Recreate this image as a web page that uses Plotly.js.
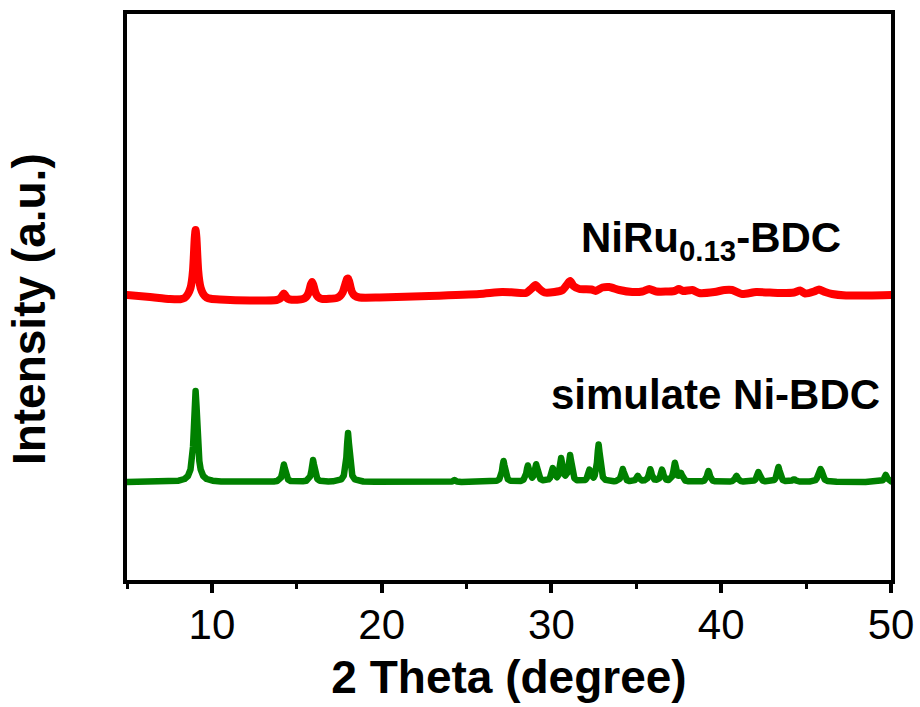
<!DOCTYPE html>
<html>
<head>
<meta charset="utf-8">
<script src="https://cdn.plot.ly/plotly-3.0.1.min.js"></script>
<style>
  html, body { margin: 0; padding: 0; background: #fff; }
  #chart { width: 920px; height: 707px; }
  /* rounded joins so the narrow diffraction peaks get soft tips */
  #chart .scatterlayer path.js-line { stroke-linejoin: round; stroke-linecap: round; }
</style>
</head>
<body>
<div id="chart"></div>
<script>
// Measured NiRu0.13-BDC pattern (2θ in degrees, intensity in a.u. above its own baseline)
const niruTheta = [5, 6.35, 7.53, 8.14, 8.39, 8.59, 8.74, 8.82, 8.89, 8.94, 8.99, 9.04, 9.09, 9.14, 9.19,
  9.26, 9.34, 9.49, 9.69, 9.94, 10.47, 12.24,
  13.82, 14.0, 14.1, 14.17, 14.24, 14.31, 14.38, 14.48, 14.7,
  15.35, 15.55, 15.68, 15.76, 15.83, 15.9, 15.97, 16.04, 16.12, 16.25, 16.47,
  17.35, 17.55, 17.7, 17.8, 17.9, 17.96, 18.02, 18.08, 18.15, 18.25, 18.4, 18.7,
  19.88, 22.8, 25.76, 27.1, 27.8, 28.5, 28.8, 29.06, 29.3, 29.6, 30.18,
  30.65, 30.94, 31.1, 31.3, 31.65, 32.35, 32.6, 33.0, 33.4, 34.0, 34.76, 35.35, 35.76, 36.18, 37.24,
  37.5, 37.76, 38.3, 38.7, 39.6, 40.2, 40.65, 41.24, 42.06, 43.4, 44.3, 44.65, 44.94, 45.47, 45.76,
  46.12, 46.53, 47.35, 48.7, 50];
const niruIntensity = [5, 3, 1, 0.8, 2, 6, 12, 19, 30, 45, 62, 70, 62, 45, 30,
  19, 12, 6, 2.5, 1.2, 0.5, -0.5,
  0, 1.2, 3, 5, 6.5, 5, 3, 1.2, 0.2,
  1, 3, 6.5, 11, 15.5, 18, 15.5, 11, 6.5, 3, 1.2,
  2, 4, 7.5, 12.5, 18, 21, 21.5, 19, 14, 8, 4.5, 2.5,
  2.5, 4, 6, 8, 7.5, 7, 11, 15, 11, 7.5, 8,
  10, 16, 19, 14, 11, 10.5, 9, 12.5, 13, 10, 8, 8.5, 11, 8.5, 9,
  11, 9, 10, 7, 8, 10, 10, 6, 8, 7, 7.5, 9.5, 6.5, 8.5, 10.5,
  8, 6, 4.5, 4.5, 5];

// Simulated Ni-BDC pattern
const simTheta = [5, 7.0, 7.54, 8.04, 8.39, 8.59, 8.74, 8.82, 8.89, 8.94, 8.99, 9.04, 9.09, 9.14, 9.19,
  9.26, 9.34, 9.49, 9.69, 10.04, 10.54, 11.5, 12.8,
  13.34, 13.64, 13.84, 13.99, 14.07, 14.14, 14.19, 14.24, 14.29, 14.34, 14.41, 14.49, 14.64, 14.84, 15.06,
  15.36, 15.56, 15.71, 15.79, 15.86, 15.91, 15.96, 16.01, 16.06, 16.13, 16.21, 16.36, 16.56, 16.86,
  17.12, 17.42, 17.62, 17.77, 17.85, 17.92, 17.97, 18.02, 18.07, 18.12, 18.19, 18.27, 18.42, 18.62,
  18.92, 19.6, 20.5, 23.9, 24.15, 24.29, 24.43, 24.7, 26.0,
  26.28, 26.58, 26.78, 26.93, 27.01, 27.08, 27.13, 27.18, 27.23, 27.28, 27.35, 27.43, 27.58, 27.78,
  28.01, 28.21, 28.36, 28.44, 28.51, 28.56, 28.61, 28.66, 28.71, 28.78, 28.86, 28.94, 29.0, 29.05,
  29.1, 29.15, 29.2, 29.27, 29.35, 29.5, 29.7,
  29.83, 29.91, 29.98, 30.03, 30.08, 30.13, 30.18, 30.25, 30.33, 30.4, 30.47, 30.52, 30.57, 30.62,
  30.67, 30.74, 30.82, 30.88, 30.95, 31.0, 31.05, 31.1, 31.15, 31.2, 31.27, 31.35, 31.5, 31.7,
  31.9, 32.0, 32.07, 32.14, 32.19, 32.24, 32.29, 32.34, 32.41, 32.48, 32.55, 32.61, 32.68, 32.73,
  32.78, 32.83, 32.88, 32.95, 33.03, 33.18, 33.38, 33.68,
  33.8, 33.95, 34.03, 34.1, 34.15, 34.2, 34.25, 34.3, 34.37, 34.45, 34.6, 34.75,
  34.83, 34.91, 34.98, 35.03, 35.08, 35.13, 35.18, 35.25, 35.33, 35.48,
  35.57, 35.65, 35.72, 35.77, 35.82, 35.87, 35.92, 35.99, 36.07, 36.2,
  36.26, 36.34, 36.41, 36.46, 36.51, 36.56, 36.61, 36.68, 36.76, 36.9,
  37.02, 37.1, 37.17, 37.22, 37.27, 37.32, 37.37, 37.44, 37.52, 37.58, 37.63, 37.68, 37.73, 37.8,
  37.88, 38.03, 38.23,
  38.65, 38.85, 39.0, 39.08, 39.15, 39.2, 39.25, 39.3, 39.35, 39.42, 39.5, 39.65, 39.85, 40.3,
  40.5, 40.65, 40.73, 40.8, 40.85, 40.9, 40.95, 41.0, 41.07, 41.15, 41.3, 41.59,
  41.79, 41.94, 42.02, 42.09, 42.14, 42.19, 42.24, 42.29, 42.36, 42.44, 42.59, 42.79,
  42.97, 43.12, 43.2, 43.27, 43.32, 43.37, 43.42, 43.47, 43.54, 43.62, 43.77, 43.97,
  44.04, 44.12, 44.19, 44.24, 44.29, 44.34, 44.39, 44.46, 44.6,
  45.2, 45.4, 45.55, 45.63, 45.7, 45.75, 45.8, 45.85, 45.9, 45.95, 46.02, 46.1, 46.25, 46.45, 46.8, 48.5,
  49.09, 49.29, 49.44, 49.52, 49.59, 49.64, 49.69, 49.74, 49.79, 49.86, 49.94, 50];
const simIntensity = [0, 0.2, 0.6, 1.3, 3, 6, 12.5, 21, 35.5, 54, 77, 91, 77, 54, 35.5,
  21, 12.5, 6, 3, 1.3, 0.6, 0.2, 0.1,
  0.25, 0.45, 1, 2.3, 4.4, 8.8, 14, 17.5, 14, 8.8, 4.4, 2.3, 1, 0.55, 0.6,
  0.8, 1.3, 3, 5.6, 11, 17.6, 22, 17.6, 11, 5.6, 3, 1.3, 0.7, 0.6,
  0.7, 1.3, 2.7, 6.4, 12.3, 24.5, 39, 49, 39, 24.5, 12.3, 6.4, 2.7, 1.2,
  0.5, 0.15, 0, 0, 0.5, 2, 0.5, 0, 0.1,
  0.2, 0.5, 1.2, 2.7, 5.3, 10.5, 16.8, 21, 16.8, 10.5, 5.3, 2.7, 1.2, 0.8,
  0.8, 1.1, 2.4, 4.4, 8.5, 13.3, 16.5, 13.6, 9, 5.5, 4.4, 6.1, 9.7, 14.5,
  17.8, 14.5, 9.2, 4.7, 3, 1.8, 1.9,
  2.6, 4, 7.5, 11.5, 14, 11.5, 8, 5.5, 4.8, 6.5, 11.5, 19, 24, 19.5,
  13, 8, 6.5, 7.2, 9.4, 14.5, 22.5, 27, 21.8, 13.8, 7, 3.8, 1.8, 1.3,
  1.7, 2.1, 3.5, 6.6, 10.3, 12.5, 10.6, 7.2, 4.6, 4.4, 6.5, 10.2, 19.4, 30.5,
  37.5, 30, 18.8, 9.4, 4.9, 2.1, 1, 0.7,
  1, 1.8, 3.3, 6.5, 10.4, 13, 10.4, 6.5, 3.3, 1.8, 0.9, 1,
  1.2, 1.9, 3.3, 5, 6.2, 5.1, 3.5, 2.3, 1.6, 1.7,
  2.2, 3.6, 6.7, 10.4, 12.8, 10.5, 6.8, 3.7, 2.4, 2.3,
  2.4, 3.6, 6.5, 10, 12.3, 10.2, 6.6, 3.8, 2.5, 1.9,
  3.3, 5.4, 9.9, 15.5, 19.3, 15.8, 10.6, 6.5, 6.2, 7.8, 9, 7.2, 4.6, 2.6,
  1.5, 0.8, 0.5,
  0.4, 0.7, 1.4, 2.8, 5.5, 8.8, 11, 8.8, 5.5, 2.8, 1.4, 0.7, 0.4, 0.3,
  0.5, 0.9, 1.6, 3, 4.8, 6, 4.8, 3, 1.6, 0.9, 0.5, 0.4,
  0.65, 1.4, 2.6, 5, 8, 10, 8, 5, 2.6, 1.4, 0.7, 0.6,
  1, 2, 3.8, 7.5, 12, 15, 12, 7.5, 3.8, 2, 1, 0.6,
  0.6, 0.9, 1.6, 2.4, 3, 2.4, 1.6, 0.9, 0.5,
  0.4, 0.9, 1.9, 3.6, 7, 10.5, 12.8, 13, 11.5, 8, 4.5, 2.4, 1.1, 0.5, 0.3, 0.1,
  0.2, 0.45, 0.9, 1.8, 3.5, 5.6, 7, 5.6, 3.5, 1.8, 0.9, 0.7];

// Vertical offsets used to stack the two patterns
const niruOffset = 280;
const simOffset = 98;

const xTicks = [10, 20, 30, 40, 50];
const labels = ['NiRu<sub>0.13</sub>-BDC', 'simulate Ni-BDC'];

const FONT = 'Liberation Sans, Arial, Helvetica, sans-serif';

const traces = [
  {
    x: niruTheta,
    y: niruIntensity.map(v => v + niruOffset),
    mode: 'lines',
    line: { color: '#ff0000', width: 8, shape: 'spline', smoothing: 0.6 },
    hoverinfo: 'skip'
  },
  {
    x: simTheta,
    y: simIntensity.map(v => v + simOffset),
    mode: 'lines',
    line: { color: '#008000', width: 6.5 },
    hoverinfo: 'skip'
  }
];

const layout = {
  width: 920,
  height: 707,
  margin: { l: 127, r: 29, t: 14, b: 127 },
  paper_bgcolor: '#ffffff',
  plot_bgcolor: '#ffffff',
  showlegend: false,
  font: { family: FONT, color: '#000' },
  xaxis: {
    range: [5, 50],
    tickvals: xTicks,
    ticktext: xTicks.map(String),
    ticks: 'outside',
    ticklen: 9,
    tickwidth: 4,
    tickcolor: '#000',
    ticklabelstandoff: -4,
    minor: { dtick: 5, tick0: 5, ticks: 'outside', ticklen: 5, tickwidth: 3, tickcolor: '#000' },
    tickfont: { family: FONT, size: 42, color: '#000' },
    showline: true,
    linewidth: 4,
    linecolor: '#000',
    mirror: true,
    showgrid: false,
    zeroline: false,
    title: { text: '<b>2 Theta (degree)</b>', font: { family: FONT, size: 46, color: '#000' }, standoff: 14 }
  },
  yaxis: {
    range: [0, 566],
    showticklabels: false,
    ticks: '',
    showline: true,
    linewidth: 4,
    linecolor: '#000',
    mirror: true,
    showgrid: false,
    zeroline: false
  },
  annotations: [
    {
      // y-axis title
      x: -0.128, y: 0.479, xref: 'paper', yref: 'paper',
      xanchor: 'center', yanchor: 'middle',
      textangle: -90,
      text: '<b>Intensity (a.u.)</b>',
      showarrow: false,
      font: { family: FONT, size: 46, color: '#000' }
    },
    {
      x: 31.6, y: 340, xref: 'x', yref: 'y',
      xanchor: 'left', yanchor: 'middle',
      text: '<b>' + labels[0] + '</b>',
      showarrow: false,
      font: { family: FONT, size: 42, color: '#000' }
    },
    {
      x: 29.88, y: 186, xref: 'x', yref: 'y',
      xanchor: 'left', yanchor: 'middle',
      text: '<b>' + labels[1] + '</b>',
      showarrow: false,
      font: { family: FONT, size: 42, color: '#000' }
    }
  ]
};

Plotly.newPlot('chart', traces, layout, { staticPlot: true, displayModeBar: false });
</script>
</body>
</html>
